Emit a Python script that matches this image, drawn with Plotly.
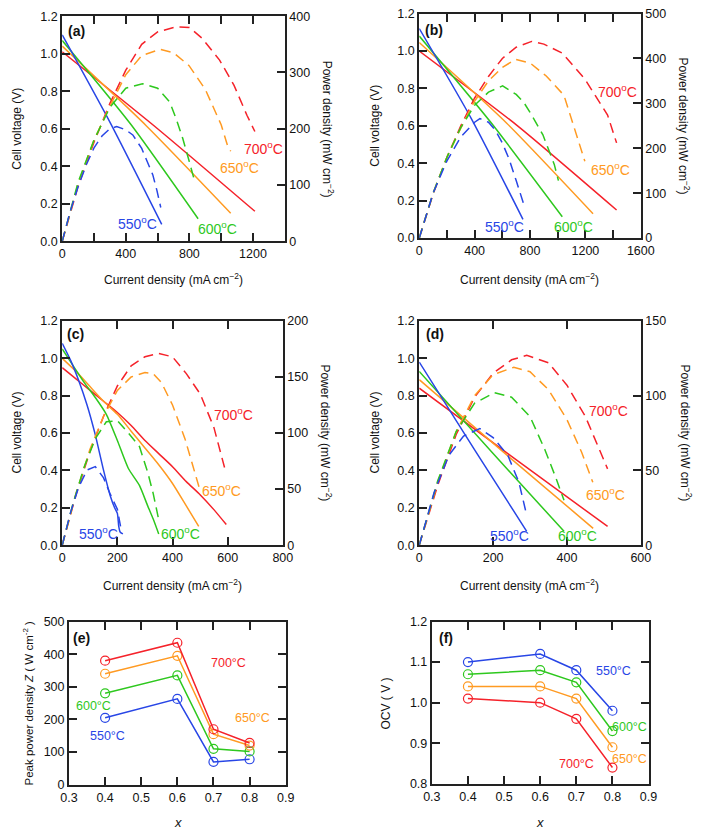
import plotly.graph_objects as go

W, H = 709, 835
FONT = "Liberation Sans, Arial, sans-serif"

TEMPS = ["550", "600", "650", "700"]
X_COMP = [0.4, 0.6, 0.7, 0.8]

# ---------------- panel (a) ----------------
A550_VI = [0, 300, 626]
A550_V = [1.10, 0.635, 0.09]
A600_VI = [0, 430, 855]
A600_V = [1.07, 0.625, 0.12]
A650_VI = [0, 530, 1060]
A650_V = [1.04, 0.615, 0.15]
A700_VI = [0, 600, 1212]
A700_V = [1.01, 0.60, 0.16]

A550_PI = [0, 50, 100, 150, 200, 250, 300, 343, 400, 444, 500, 535, 570, 596, 620]
A550_P = [0, 53, 97, 135, 166, 187, 200, 204, 198, 189, 165, 143, 118, 90, 60]
A600_PI = [0, 100, 200, 300, 400, 505, 600, 677, 720, 758, 798, 835]
A600_P = [0, 105, 180, 238, 272, 280, 272, 247, 215, 183, 143, 105]
A650_PI = [0, 100, 200, 300, 400, 500, 616, 700, 798, 900, 1000, 1040, 1060]
A650_P = [0, 102, 180, 240, 296, 330, 341, 335, 312, 270, 207, 170, 160]
A700_PI = [0, 100, 200, 300, 400, 500, 600, 717, 800, 879, 990, 1081, 1162, 1212]
A700_P = [0, 98, 176, 245, 304, 350, 372, 381, 380, 361, 322, 277, 224, 195]

# ---------------- panel (b) ----------------
B550_VI = [0, 375, 749]
B550_V = [1.12, 0.64, 0.10]
B600_VI = [0, 515, 1033]
B600_V = [1.08, 0.62, 0.114]
B650_VI = [0, 630, 1255]
B650_V = [1.045, 0.615, 0.13]
B700_VI = [0, 710, 1425]
B700_V = [1.0, 0.60, 0.15]

B550_PI = [0, 100, 200, 300, 400, 438, 500, 550, 600, 650, 700, 753]
B550_P = [0, 100, 172, 225, 258, 266, 258, 240, 212, 175, 128, 77]
B600_PI = [0, 100, 200, 300, 400, 500, 602, 700, 753, 800, 893, 975, 1005]
B600_P = [0, 100, 180, 246, 296, 325, 339, 320, 303, 280, 230, 164, 128]
B650_PI = [0, 100, 200, 300, 400, 500, 600, 695, 800, 917, 1045, 1126, 1173, 1196]
B650_P = [0, 100, 180, 245, 305, 350, 380, 398, 390, 361, 318, 237, 193, 171]
B700_PI = [0, 100, 200, 300, 400, 500, 600, 700, 812, 900, 1033, 1196, 1360, 1425]
B700_P = [0, 98, 180, 250, 312, 360, 400, 425, 438, 432, 412, 354, 274, 212]

# ---------------- panel (c) ----------------
C550_VI = [0, 30, 60, 90, 120, 150, 175, 190, 200, 205, 210, 220]
C550_V = [1.08, 0.99, 0.88, 0.75, 0.59, 0.40, 0.26, 0.20, 0.17, 0.10, 0.07, 0.06]
C600_VI = [0, 40, 80, 120, 160, 200, 240, 280, 310, 330, 350]
C600_V = [1.05, 0.96, 0.87, 0.79, 0.70, 0.56, 0.41, 0.32, 0.21, 0.14, 0.06]
C650_VI = [0, 50, 100, 150, 200, 250, 300, 350, 400, 450, 495]
C650_V = [1.0, 0.93, 0.85, 0.77, 0.70, 0.61, 0.52, 0.43, 0.33, 0.21, 0.10]
C700_VI = [0, 50, 100, 150, 200, 250, 300, 350, 400, 450, 500, 550, 595]
C700_V = [0.95, 0.89, 0.83, 0.77, 0.71, 0.64, 0.56, 0.49, 0.42, 0.34, 0.27, 0.19, 0.11]

C550_PI = [0, 30, 60, 90, 120, 150, 175, 200, 215]
C550_P = [0, 29, 52, 67, 70, 60, 45, 32, 12]
C600_PI = [0, 40, 80, 120, 160, 200, 240, 280, 310, 330, 348]
C600_P = [0, 38, 70, 95, 110, 111, 100, 88, 65, 46, 25]
C650_PI = [0, 50, 100, 150, 200, 250, 300, 330, 360, 400, 445, 496]
C650_P = [0, 46, 85, 115, 138, 150, 154, 153, 145, 125, 95, 52]
C700_PI = [0, 50, 100, 150, 200, 250, 300, 350, 400, 450, 500, 550, 590]
C700_P = [0, 45, 83, 115, 142, 160, 168, 171, 168, 153, 135, 105, 68]

# ---------------- panel (d) ----------------
D550_VI = [0, 150, 291]
D550_V = [0.98, 0.51, 0.074]
D600_VI = [0, 200, 392]
D600_V = [0.93, 0.49, 0.074]
D650_VI = [0, 250, 471]
D650_V = [0.886, 0.46, 0.09]
D700_VI = [0, 250, 510]
D700_V = [0.84, 0.475, 0.10]

D550_PI = [0, 40, 80, 120, 164, 200, 240, 270, 290]
D550_P = [0, 35, 60, 73, 78, 72, 60, 42, 21]
D600_PI = [0, 50, 100, 150, 204, 250, 300, 340, 370, 392]
D600_P = [0, 43, 76, 95, 102, 99, 86, 64, 45, 30]
D650_PI = [0, 50, 100, 150, 200, 256, 300, 350, 400, 440, 470]
D650_P = [0, 42, 76, 100, 114, 119, 116, 104, 84, 62, 42]
D700_PI = [0, 50, 100, 150, 200, 250, 291, 350, 400, 450, 510]
D700_P = [0, 40, 74, 99, 115, 124, 127, 122, 107, 86, 51]

# ---------------- panel (e) peak power ----------------
E550 = [205, 263, 70, 78]
E600 = [280, 335, 110, 102]
E650 = [340, 395, 155, 120]
E700 = [380, 435, 170, 128]

# ---------------- panel (f) OCV ----------------
F550 = [1.10, 1.12, 1.08, 0.98]
F600 = [1.07, 1.08, 1.05, 0.93]
F650 = [1.04, 1.04, 1.01, 0.89]
F700 = [1.01, 1.00, 0.96, 0.84]

# tick values / labels
A_XTICKS = [0, 200, 400, 600, 800, 1000, 1200, 1400]
A_XTEXT = ["0", "", "400", "", "800", "", "1200", ""]
B_XTICKS = [0, 200, 400, 600, 800, 1000, 1200, 1400, 1600]
B_XTEXT = ["0", "", "400", "", "800", "", "1200", "", "1600"]
C_XTICKS = [0, 200, 400, 600, 800]
D_XTICKS = [0, 200, 400, 600]
V_TICKS = [0.0, 0.2, 0.4, 0.6, 0.8, 1.0, 1.2]

COLORS = {"550": "#2846e6", "600": "#2ec81e", "650": "#ff9a22", "700": "#f5222a"}

panels = {
    "a": dict(x="x", y="y", y2="y2",
              V={"550": (A550_VI, A550_V), "600": (A600_VI, A600_V), "650": (A650_VI, A650_V), "700": (A700_VI, A700_V)},
              P={"550": (A550_PI, A550_P), "600": (A600_PI, A600_P), "650": (A650_PI, A650_P), "700": (A700_PI, A700_P)}),
    "b": dict(x="x2", y="y3", y2="y4",
              V={"550": (B550_VI, B550_V), "600": (B600_VI, B600_V), "650": (B650_VI, B650_V), "700": (B700_VI, B700_V)},
              P={"550": (B550_PI, B550_P), "600": (B600_PI, B600_P), "650": (B650_PI, B650_P), "700": (B700_PI, B700_P)}),
    "c": dict(x="x3", y="y5", y2="y6",
              V={"550": (C550_VI, C550_V), "600": (C600_VI, C600_V), "650": (C650_VI, C650_V), "700": (C700_VI, C700_V)},
              P={"550": (C550_PI, C550_P), "600": (C600_PI, C600_P), "650": (C650_PI, C650_P), "700": (C700_PI, C700_P)}),
    "d": dict(x="x4", y="y7", y2="y8",
              V={"550": (D550_VI, D550_V), "600": (D600_VI, D600_V), "650": (D650_VI, D650_V), "700": (D700_VI, D700_V)},
              P={"550": (D550_PI, D550_P), "600": (D600_PI, D600_P), "650": (D650_PI, D650_P), "700": (D700_PI, D700_P)}),
}

fig = go.Figure()

for key, p in panels.items():
    for t in ["700", "650", "600", "550"]:
        xi, yv = p["P"][t]
        fig.add_trace(go.Scatter(x=xi, y=yv, xaxis=p["x"], yaxis=p["y2"], mode="lines",
                                 line=dict(color=COLORS[t], width=1.5, dash="10px,6px"),
                                 showlegend=False, hoverinfo="skip"))
    for t in ["700", "650", "600", "550"]:
        xi, yv = p["V"][t]
        fig.add_trace(go.Scatter(x=xi, y=yv, xaxis=p["x"], yaxis=p["y"], mode="lines",
                                 line=dict(color=COLORS[t], width=1.5, shape="spline", smoothing=0.6),
                                 showlegend=False, hoverinfo="skip"))

E_SERIES = {"550": E550, "600": E600, "650": E650, "700": E700}
F_SERIES = {"550": F550, "600": F600, "650": F650, "700": F700}
for t in ["550", "600", "650", "700"]:
    fig.add_trace(go.Scatter(x=X_COMP, y=E_SERIES[t], xaxis="x5", yaxis="y9", mode="lines+markers",
                             line=dict(color=COLORS[t], width=1.5),
                             marker=dict(symbol="circle-open", size=9, color=COLORS[t], line=dict(width=1.2)),
                             showlegend=False, hoverinfo="skip"))
    fig.add_trace(go.Scatter(x=X_COMP, y=F_SERIES[t], xaxis="x6", yaxis="y10", mode="lines+markers",
                             line=dict(color=COLORS[t], width=1.5),
                             marker=dict(symbol="circle-open", size=9, color=COLORS[t], line=dict(width=1.2)),
                             showlegend=False, hoverinfo="skip"))


def fx(px):
    return px / W


def fy(py):
    return 1 - py / H


AX = dict(showline=True, linecolor="#222222", linewidth=2, ticks="inside", ticklen=8,
          tickwidth=1.5, tickcolor="#222222", showgrid=False, zeroline=False,
          tickfont=dict(family=FONT, size=12.5, color="#111111"))

# pixel boxes: (left, right, top, bottom)
BOX = {
    "a": (55, 285, 9.3, 238.3),
    "b": (424, 653, 6.7, 235),
    "c": (55, 283, 319.3, 547.3),
    "d": (424, 653, 319.3, 547.3),
    "e": (62, 286, 625, 791),
    "f": (437, 661, 625, 790),
}


def xdom(k):
    return [fx(BOX[k][0]), fx(BOX[k][1])]


def ydom(k):
    return [fy(BOX[k][3]), fy(BOX[k][2])]


layout = dict(width=W, height=H, margin=dict(l=0, r=0, t=0, b=0),
              paper_bgcolor="white", plot_bgcolor="white", showlegend=False,
              font=dict(family=FONT, size=12, color="#111111"))

# panel a
layout["xaxis"] = dict(AX, domain=xdom("a"), anchor="y", range=[0, 1400], tickvals=A_XTICKS, ticktext=A_XTEXT, mirror="ticks")
layout["yaxis"] = dict(AX, domain=ydom("a"), anchor="x", range=[0, 1.2], tickvals=V_TICKS, tickformat=".1f")
layout["yaxis2"] = dict(AX, overlaying="y", side="right", anchor="x", range=[0, 400], dtick=100)
# panel b
layout["xaxis2"] = dict(AX, domain=xdom("b"), anchor="y3", range=[0, 1600], tickvals=B_XTICKS, ticktext=B_XTEXT, mirror="ticks")
layout["yaxis3"] = dict(AX, domain=ydom("b"), anchor="x2", range=[0, 1.2], tickvals=V_TICKS, tickformat=".1f")
layout["yaxis4"] = dict(AX, overlaying="y3", side="right", anchor="x2", range=[0, 500], dtick=100)
# panel c
layout["xaxis3"] = dict(AX, domain=xdom("c"), anchor="y5", range=[0, 800], tickvals=C_XTICKS, mirror="ticks")
layout["yaxis5"] = dict(AX, domain=ydom("c"), anchor="x3", range=[0, 1.2], tickvals=V_TICKS, tickformat=".1f")
layout["yaxis6"] = dict(AX, overlaying="y5", side="right", anchor="x3", range=[0, 200], dtick=50)
# panel d
layout["xaxis4"] = dict(AX, domain=xdom("d"), anchor="y7", range=[0, 600], tickvals=D_XTICKS, mirror="ticks")
layout["yaxis7"] = dict(AX, domain=ydom("d"), anchor="x4", range=[0, 1.2], tickvals=V_TICKS, tickformat=".1f")
layout["yaxis8"] = dict(AX, overlaying="y7", side="right", anchor="x4", range=[0, 150], dtick=50)
# panel e
layout["xaxis5"] = dict(AX, domain=xdom("e"), anchor="y9", range=[0.3, 0.9], dtick=0.1, tickformat=".1f", mirror="ticks")
layout["yaxis9"] = dict(AX, domain=ydom("e"), anchor="x5", range=[0, 500], dtick=100, mirror="ticks")
# panel f
layout["xaxis6"] = dict(AX, domain=xdom("f"), anchor="y10", range=[0.3, 0.9], dtick=0.1, tickformat=".1f", mirror="ticks")
layout["yaxis10"] = dict(AX, domain=ydom("f"), anchor="x6", range=[0.8, 1.2], dtick=0.1, tickformat=".1f", mirror="ticks")

fig.update_layout(**layout)

ann = []


def text(px, py, s, size=12, color="#111111", angle=0, bold=False, italic=False):
    ann.append(dict(x=fx(px), y=fy(py), xref="paper", yref="paper", text=s, showarrow=False,
                    textangle=angle, xanchor="center", yanchor="middle",
                    font=dict(family=FONT, size=size, color=color,
                              weight="bold" if bold else "normal",
                              style="italic" if italic else "normal")))


CUR = "Current density (mA cm<sup>−2</sup>)"
PWR = "Power density (mW cm<sup>−2</sup>)"
CV = "Cell voltage (V)"

# axis titles
text(8, 124, CV, angle=-90)
text(330, 124, PWR, angle=90)
text(170, 277, CUR)
text(378, 121, CV, angle=-90)
text(698, 121, PWR, angle=90)
text(538, 277, CUR)
text(8, 433, CV, angle=-90)
text(328, 433, PWR, angle=90)
text(169, 588, CUR)
text(378, 433, CV, angle=-90)
text(700, 433, PWR, angle=90)
text(538, 588, CUR)
text(20, 708, "Peak power density <i>Z</i> ( W cm<sup>-2</sup> )", size=11.5, angle=-90)
text(390, 708, "OCV ( V )", angle=-90)
text(175, 829, "x", italic=True, size=13)
text(549, 829, "x", italic=True, size=13)

# panel letters
text(70, 24, "(a)", size=14, bold=True)
text(439, 23, "(b)", size=14, bold=True)
text(69, 333, "(c)", size=14, bold=True)
text(440, 333, "(d)", size=14, bold=True)
text(75, 642, "(e)", size=14, bold=True)
text(452, 642, "(f)", size=14, bold=True)

# temperature labels, panels a-d
LBL = {
    "a": {"550": (133, 220), "600": (215, 225), "650": (238, 163), "700": (263, 143)},
    "b": {"550": (512, 223), "600": (583, 223), "650": (622, 165), "700": (629, 85)},
    "c": {"550": (93, 535), "600": (177, 535), "650": (220, 491), "700": (232, 414)},
    "d": {"550": (517, 537), "600": (588, 537), "650": (617, 495), "700": (620, 410)},
}
for k, d in LBL.items():
    for t, (px, py) in d.items():
        text(px, py, t + "<sup>o</sup>C", size=14, color=COLORS[t])

# temperature labels, panels e-f
text(227, 667, "700°C", size=12.5, color=COLORS["700"])
text(252, 723, "650°C", size=12.5, color=COLORS["650"])
text(87, 711, "600°C", size=12.5, color=COLORS["600"])
text(102, 741, "550°C", size=12.5, color=COLORS["550"])
text(625, 675, "550°C", size=12.5, color=COLORS["550"])
text(641, 732, "600°C", size=12.5, color=COLORS["600"])
text(641, 765, "650°C", size=12.5, color=COLORS["650"])
text(587, 770, "700°C", size=12.5, color=COLORS["700"])

fig.update_layout(annotations=ann)
fig.write_html("out.html")
